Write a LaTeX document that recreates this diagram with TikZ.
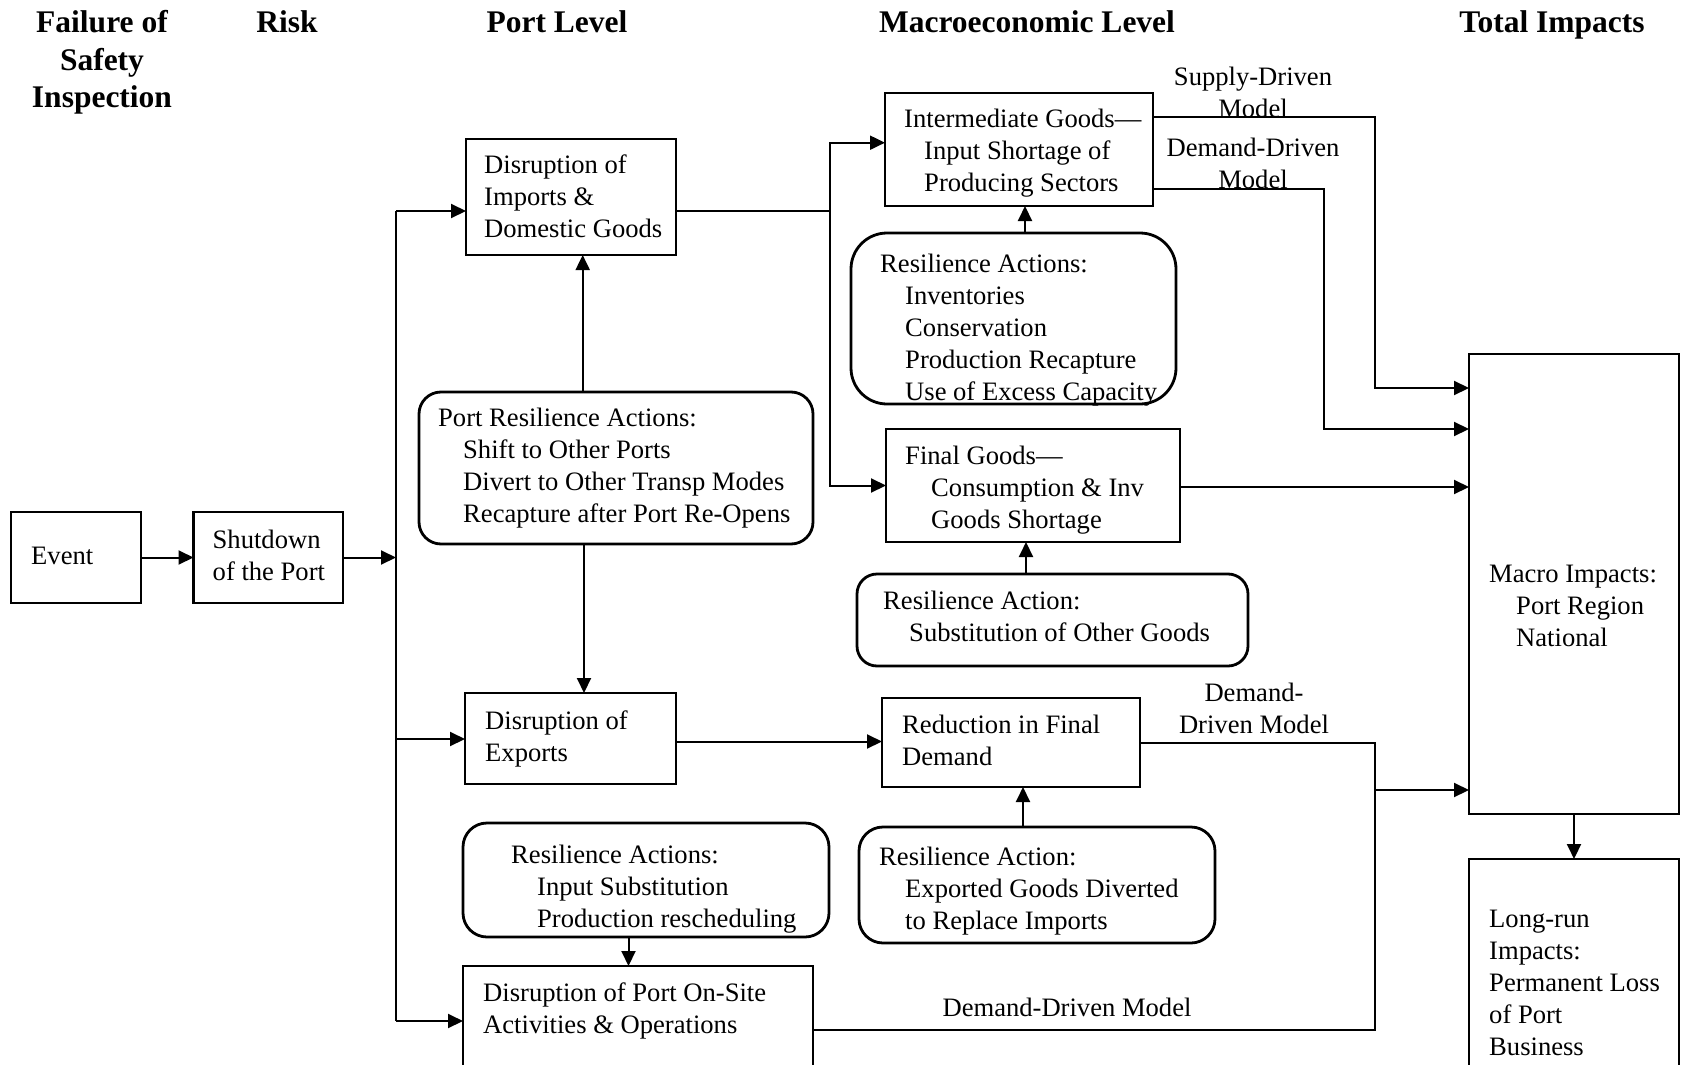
\documentclass[tikz,border=0pt]{standalone}
\usepackage{fontspec}
\setmainfont{Liberation Serif}
\usetikzlibrary{arrows.meta,calc}
\newcommand{\ind}{\hspace*{25pt}}
\begin{document}
\begin{tikzpicture}[x=1pt,y=-1pt,
  box/.style={draw, line width=2.2pt, inner sep=0pt, outer sep=0pt},
  rbox/.style={draw, line width=2.8pt, inner sep=0pt, outer sep=0pt, rounded corners=#1},
  rbox/.default=22pt,
  txt/.style={inner sep=0pt, anchor=north west, align=left, yshift=1pt, font=\fontsize{26.6}{32}\selectfont},
  ctxt/.style={inner sep=0pt, anchor=north, align=center, yshift=1pt, font=\fontsize{26.6}{32}\selectfont},
  hdr/.style={inner sep=0pt, anchor=north, align=center, font=\fontsize{31.5}{37.5}\selectfont\bfseries},
  con/.style={line width=2pt},
  arr/.style={line width=2pt, -{Triangle[length=15pt,width=14pt]}}
]
\useasboundingbox (0,0) rectangle (1681,1065);
\fill[white] (0,0) rectangle (1681,1065);
\clip (0,0) rectangle (1681,1065);

% headers
\node[hdr] (h1) at (102,6.5) {\strut Failure of\\Safety\\Inspection};
\node[hdr] (h2) at (287,6.5) {\strut Risk};
\node[hdr] (h3) at (557,6.5) {\strut Port Level};
\node[hdr] (h4) at (1027,6.5) {\strut Macroeconomic Level};
\node[hdr] (h5) at (1552,6.5) {\strut Total Impacts};

% boxes
\node[box, minimum width=130pt, minimum height=91pt] (ev) at (76,557.5) {};
\node[box, minimum width=149.5pt, minimum height=91pt] (sd) at (268.25,557.5) {};
\node[box, minimum width=210pt, minimum height=116pt] (imp) at (571,197) {};
\node[rbox=22pt, minimum width=394pt, minimum height=152pt] (pra) at (616,468) {};
\node[box, minimum width=211pt, minimum height=91pt] (exp) at (570.5,738.5) {};
\node[box, minimum width=268pt, minimum height=113pt] (intm) at (1019,149.5) {};
\node[rbox=36pt, minimum width=325pt, minimum height=171pt] (rint) at (1013.5,318.5) {};
\node[box, minimum width=294pt, minimum height=113pt] (fin) at (1033,485.5) {};
\node[rbox=20pt, minimum width=391pt, minimum height=92pt] (sub) at (1052.5,620) {};
\node[box, minimum width=258pt, minimum height=89pt] (red) at (1011,742.5) {};
\node[rbox=24pt, minimum width=356pt, minimum height=116pt] (rexp) at (1037,885) {};
\node[rbox=24pt, minimum width=366pt, minimum height=114pt] (rin) at (646,880) {};
\node[box, minimum width=350pt, minimum height=124pt] (ons) at (638,1028) {};
\node[box, minimum width=210pt, minimum height=460pt] (mac) at (1574,584) {};
\node[box, minimum width=210pt, minimum height=231pt] (lr) at (1574,974.5) {};

% texts
\node[txt] (tev) at (31,542.5) {\strut Event};
\node[txt] (tsd) at (212.5,526.5) {\strut Shutdown\\of the Port};
\node[txt] (timp) at (484,151.5) {\strut Disruption of\\Imports \&\\Domestic Goods};
\node[txt] (tpra) at (438,404.5) {\strut Port Resilience Actions:\\\ind Shift to Other Ports\\\ind Divert to Other Transp Modes\\\ind Recapture after Port Re-Opens};
\node[txt] (texp) at (485,707.5) {\strut Disruption of\\Exports};
\node[txt] (tintm) at (904,106) {\strut Intermediate Goods---\\\hspace*{20pt}Input Shortage of\\\hspace*{20pt}Producing Sectors};
\node[ctxt] (lsup) at (1253,63.5) {\strut Supply-Driven\\Model};
\node[ctxt] (ldem) at (1253,134.5) {\strut Demand-Driven\\Model};
\node[txt] (trint) at (880,251) {\strut Resilience Actions:\\\ind Inventories\\\ind Conservation\\\ind Production Recapture\\\ind Use of Excess Capacity};
\node[txt] (tfin) at (905,442.5) {\strut Final Goods---\\\hspace*{26pt}Consumption \& Inv\\\hspace*{26pt}Goods Shortage};
\node[txt] (tsub) at (883,588) {\strut Resilience Action:\\\hspace*{26pt}Substitution of Other Goods};
\node[txt] (tred) at (902,711.5) {\strut Reduction in Final\\Demand};
\node[ctxt] (ldem2) at (1254,679.5) {\strut Demand-\\Driven Model};
\node[txt] (tmac) at (1489,560.5) {\strut Macro Impacts:\\\hspace*{27pt}Port Region\\\hspace*{27pt}National};
\node[txt] (trin) at (511,841.5) {\strut Resilience Actions:\\\hspace*{26pt}Input Substitution\\\hspace*{26pt}Production rescheduling};
\node[txt] (trexp) at (879,843.5) {\strut Resilience Action:\\\hspace*{26pt}Exported Goods Diverted\\\hspace*{26pt}to Replace Imports};
\node[txt] (tons) at (483,979.5) {\strut Disruption of Port On-Site\\Activities \& Operations};
\node[ctxt] (ldem3) at (1067,994.5) {\strut Demand-Driven Model};
\node[txt] (tlr) at (1489,905.5) {\strut Long-run\\Impacts:\\Permanent Loss\\of Port\\Business};

% helper coordinates
\coordinate (busT) at (396,211);
\coordinate (busM) at (396,557.5);
\coordinate (busE) at (396,739);
\coordinate (busB) at (396,1021);
\coordinate (xa) at (582.7,0);
\coordinate (xb) at (584,0);
\coordinate (sp) at (829.5,211);
\coordinate (yi) at (0,142.7);
\coordinate (yf) at (0,485.5);
\coordinate (xr1) at (1025,0);
\coordinate (xr2) at (1026,0);
\coordinate (xr3) at (1023,0);
\coordinate (xr4) at (628.5,0);
\coordinate (s1) at (1375,117);
\coordinate (s2) at (1324,189);
\coordinate (j1) at (1375,743);
\coordinate (j2) at (1375,790);
\coordinate (j3) at (1375,1030);

% connectors
\draw[arr] (ev) -- (sd);
\draw[arr] (sd) -- (busM);
\draw[con] (busT) -- (busB);
\draw[arr] (busT) -- (busT -| imp.west);
\draw[arr] (busE) -- (busE -| exp.west);
\draw[arr] (busB) -- (busB -| ons.west);
\draw[arr] (xa |- pra.north) -- (xa |- imp.south);
\draw[arr] (xb |- pra.south) -- (xb |- exp.north);
\draw[con] (sp -| imp.east) -- (sp);
\draw[arr] (sp) |- (yi -| intm.west);
\draw[arr] (sp) |- (yf -| fin.west);
\draw[arr] (xr1 |- rint.north) -- (xr1 |- intm.south);
\draw[arr] (s1 -| intm.east) -- (s1) |- (0,388 -| mac.west);
\draw[arr] (s2 -| intm.east) -- (s2) |- (0,429 -| mac.west);
\draw[arr] (0,487 -| fin.east) -- (0,487 -| mac.west);
\draw[arr] (xr2 |- sub.north) -- (xr2 |- fin.south);
\draw[arr] (0,741.5 -| exp.east) -- (0,741.5 -| red.west);
\draw[arr] (xr3 |- rexp.north) -- (xr3 |- red.south);
\draw[con] (j1 -| red.east) -- (j1) -- (j3) -- (j3 -| ons.east);
\draw[arr] (j2) -- (j2 -| mac.west);
\draw[arr] (xr4 |- rin.south) -- (xr4 |- ons.north);
\draw[arr] (mac.south) -- (lr.north);
\end{tikzpicture}
\end{document}
